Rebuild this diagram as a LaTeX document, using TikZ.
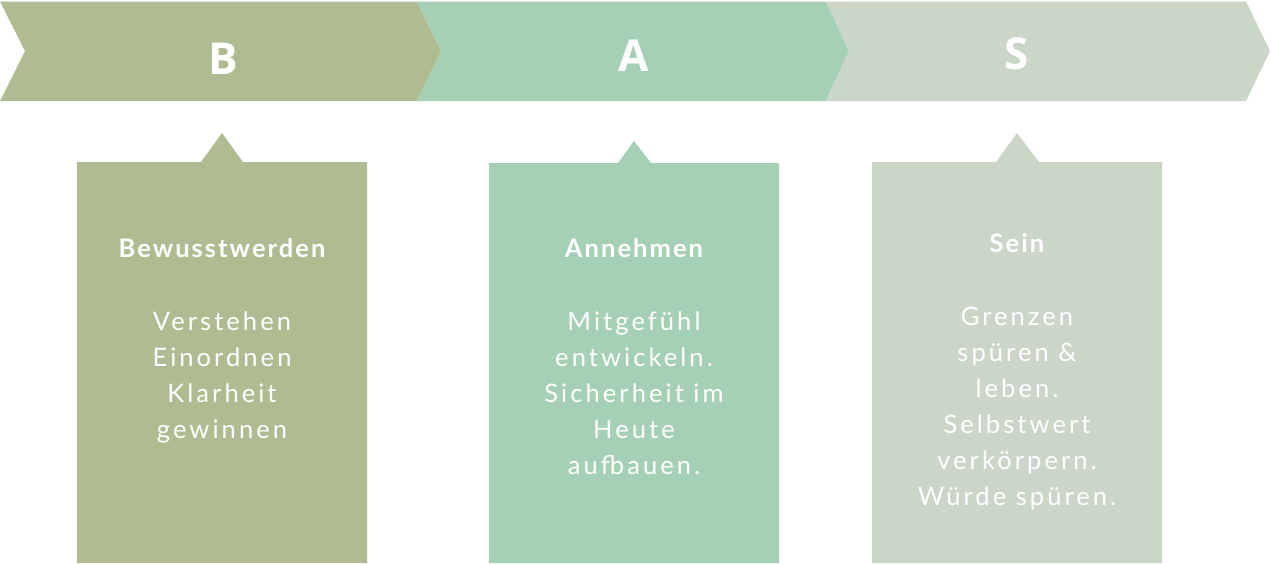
\documentclass[tikz,border=0pt]{standalone}
\usepackage{fontspec}
\setmainfont{Lato}
\newfontfamily\bodyfont[LetterSpace=12]{Lato}
\newfontfamily\headfont[LetterSpace=8]{Lato}
\newfontfamily\bigfont{Open Sans}
\definecolor{cB}{RGB}{175,188,145}
\definecolor{cA}{RGB}{166,208,181}
\definecolor{cS}{RGB}{203,214,201}
\begin{document}
\begin{tikzpicture}[x=1pt,y=-1pt,
  big/.style={text=white,font=\bigfont\fontsize{44}{44}\selectfont\bfseries,anchor=base,inner sep=0},
  head/.style={text=white,font=\headfont\fontsize{25.5}{25.5}\selectfont\bfseries,anchor=base,inner sep=0},
  body/.style={text=white,font=\bodyfont\fontsize{25.5}{25.5}\selectfont,anchor=base,inner sep=0}]
\useasboundingbox (0,0) rectangle (1271,563);
% chevrons
\fill[cB] (0,1.5) -- (417,1.5) -- (441,51) -- (417,101) -- (0,101) -- (25,51) -- cycle;
\fill[cA] (417,1.5) -- (826,1.5) -- (849,51) -- (826,101) -- (417,101) -- (441,51) -- cycle;
\fill[cS] (826,1.5) -- (1246,1.5) -- (1270,51) -- (1246,101) -- (826,101) -- (849,51) -- cycle;
\node[big] (lb) at (223,74) {B};
\node[big] (la) at (634,71) {A};
\node[big] (ls) at (1017,69) {S};
% boxes
\fill[cB] (77,162) -- (201,162) -- (222,133) -- (243,162) -- (367,162) -- (367,563) -- (77,563) -- cycle;
\fill[cA] (489,163) -- (618,163) -- (634,141) -- (651,163) -- (779,163) -- (779,563) -- (489,563) -- cycle;
\fill[cS] (872,162) -- (996,162) -- (1017,133) -- (1039,162) -- (1162,162) -- (1162,563) -- (872,563) -- cycle;
% box 1
\node[head] (hb) at (222,257) {Bewusstwerden};
\foreach \t [count=\i from 0] in {Verstehen,Einordnen,Klarheit,gewinnen}
  \node[body] (tb\i) at (222,330+36*\i) {\t};
% box 2
\node[head] (ha) at (634,257) {Annehmen};
\foreach \t [count=\i from 0] in {Mitgefühl,entwickeln.,Sicherheit im,Heute,aufbauen.}
  \node[body] (ta\i) at (634,330+36*\i) {\t};
% box 3
\node[head] (hs) at (1017,252) {Sein};
\foreach \t [count=\i from 0] in {Grenzen,spüren \&,leben.,Selbstwert,verkörpern.,Würde spüren.}
  \node[body] (ts\i) at (1017,325+36*\i) {\t};
\end{tikzpicture}
\end{document}
